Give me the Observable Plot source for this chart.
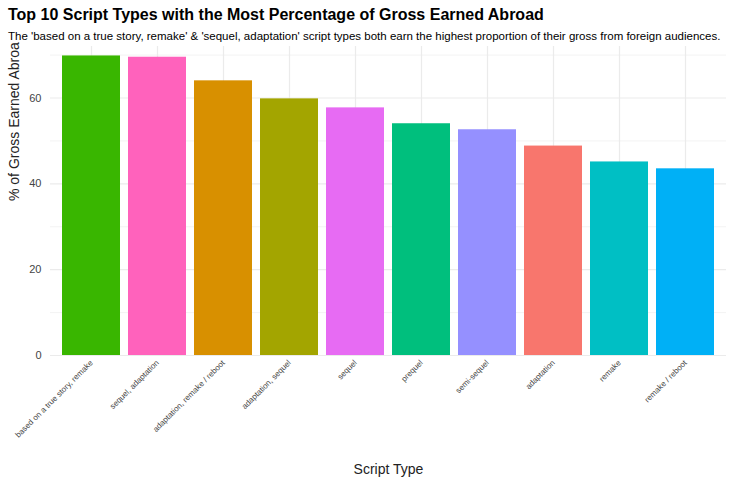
<!DOCTYPE html>
<html><head><meta charset="utf-8">
<script src="https://cdn.jsdelivr.net/npm/d3@7"></script>
<script src="https://cdn.jsdelivr.net/npm/@observablehq/plot@0.6"></script>
<style>
body{margin:0;font-family:"Liberation Sans",Arial,sans-serif;background:#fff}
h1{font-size:16px;margin:6px 0 0 8px;font-weight:bold}
p{font-size:11.5px;margin:6px 0 0 8px}
</style></head><body>
<h1>Top 10 Script Types with the Most Percentage of Gross Earned Abroad</h1>
<p>The 'based on a true story, remake' &amp; 'sequel, adaptation' script types both earn the highest proportion of their gross from foreign audiences.</p>
<div id="chart"></div>
<script>
const scriptTypes = ["based on a true story, remake","sequel, adaptation","adaptation, remake / reboot","adaptation, sequel","sequel","prequel","semi-sequel","adaptation","remake","remake / reboot"];
const pctAbroad = [69.8,69.5,64.0,59.8,57.7,54.0,52.6,48.8,45.1,43.5];
const colors = ["#39B600","#FF62BC","#D89000","#A3A500","#E76BF3","#00BF7D","#9590FF","#F8766D","#00BFC4","#00B0F6"];

const data = scriptTypes.map((s,i)=>({type:s,pct:pctAbroad[i]}));

const chart = Plot.plot({
  width:738, height:445,
  marginLeft:50, marginRight:12, marginTop:4, marginBottom:132,
  style:{fontFamily:"Liberation Sans, Arial, sans-serif", fontSize:"11px", color:"#444"},
  x:{domain:scriptTypes, padding:0.12, label:null, tickRotate:-45, tickSize:0},
  y:{domain:[0,72], ticks:[0,20,40,60], label:null, tickSize:0},
  color:{domain:scriptTypes, range:colors},
  marks:[
    Plot.gridY([10,30,50,70],{stroke:"#ebebeb",strokeWidth:0.6,strokeOpacity:1}),
    Plot.gridY([0,20,40,60],{stroke:"#ebebeb",strokeWidth:1.2,strokeOpacity:1}),
    Plot.gridX(scriptTypes,{stroke:"#ebebeb",strokeWidth:1.2,strokeOpacity:1}),
    Plot.barY(data,{x:"type",y:"pct",fill:"type"}),
    Plot.axisY({ticks:[0,20,40,60],tickSize:0,label:null,fontSize:11}),
    Plot.axisX({tickRotate:-45,tickSize:0,label:null,fontSize:8,tickPadding:6}),
    Plot.text(["Script Type"],{frameAnchor:"bottom",dy:118,fontSize:14,fill:"#222"}),
    Plot.text(["% of Gross Earned Abroad"],{frameAnchor:"left",dx:-36,rotate:-90,fontSize:14,fill:"#222"})
  ]
});
document.getElementById("chart").append(chart);
</script>
</body></html>
